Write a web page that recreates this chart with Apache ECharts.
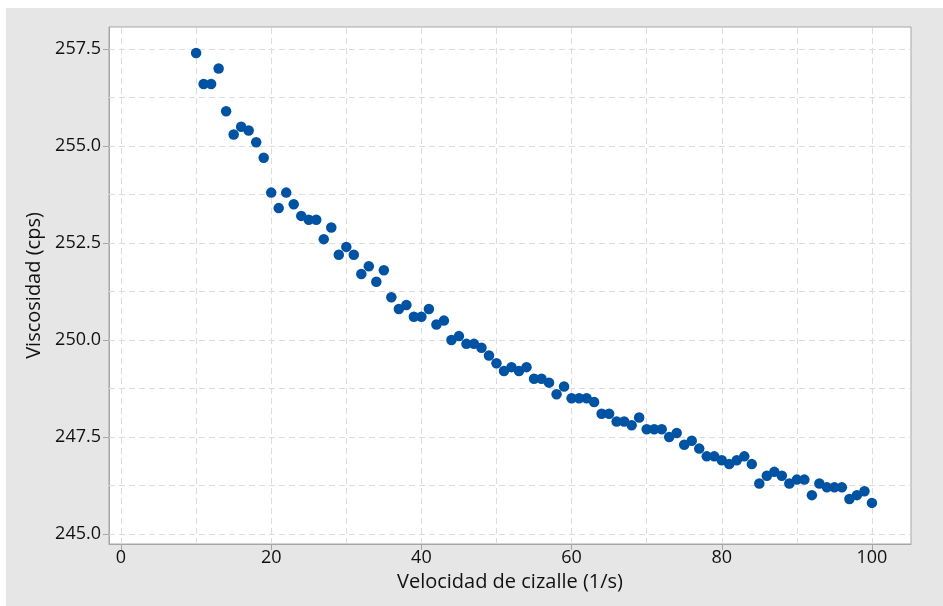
<!DOCTYPE html>
<html>
<head>
<meta charset="UTF-8">
<title>Viscosidad</title>
<style>
    html,body{margin:0;padding:0;background:#fff;width:100%;height:100%;}
    #wrap{position:absolute;left:6px;top:8px;width:937px;height:598px;background:#e6e6e6;}
</style>
</head>
<body>
<div id="wrap"></div>
<script src="https://cdn.jsdelivr.net/npm/echarts@6/dist/echarts.min.js"></script>
<script>
    // velocidad de cizalle (1/s)
    let shear = [];
    for (let i = 10; i <= 100; i++) shear.push(i);

    // viscosidad (cps)
    let viscosity = [
        257.4, 256.6, 256.6, 257.0, 255.9, 255.3, 255.5, 255.4, 255.1, 254.7,
        253.8, 253.4, 253.8, 253.5, 253.2, 253.1, 253.1, 252.6, 252.9, 252.2,
        252.4, 252.2, 251.7, 251.9, 251.5, 251.8, 251.1, 250.8, 250.9, 250.6,
        250.6, 250.8, 250.4, 250.5, 250.0, 250.1, 249.9, 249.9, 249.8, 249.6,
        249.4, 249.2, 249.3, 249.2, 249.3, 249.0, 249.0, 248.9, 248.6, 248.8,
        248.5, 248.5, 248.5, 248.4, 248.1, 248.1, 247.9, 247.9, 247.8, 248.0,
        247.7, 247.7, 247.7, 247.5, 247.6, 247.3, 247.4, 247.2, 247.0, 247.0,
        246.9, 246.8, 246.9, 247.0, 246.8, 246.3, 246.5, 246.6, 246.5, 246.3,
        246.4, 246.4, 246.0, 246.3, 246.2, 246.2, 246.2, 245.9, 246.0, 246.1,
        245.8
    ];

    let xTicks = [0, 20, 40, 60, 80, 100];
    let yTicks = [245.0, 247.5, 250.0, 252.5, 255.0, 257.5];
    let xGrid = [0, 10, 20, 30, 40, 50, 60, 70, 80, 90, 100];
    let yGrid = [245, 246.25, 247.5, 248.75, 250, 251.25, 252.5, 253.75, 255, 256.25, 257.5];

    let points = shear.map((x, i) => [x, viscosity[i]]);

    let chart = echarts.init(document.getElementById('wrap'));
    let font = '"Open Sans", "Noto Sans", sans-serif';
    let frame = '#a6a6a6';

    let gridLines = xGrid.map(v => ({xAxis: v})).concat(yGrid.map(v => ({yAxis: v})));

    chart.setOption({
        animation: false,
        backgroundColor: 'transparent',
        textStyle: {fontFamily: font},
        grid: {
            left: 103, right: 32, top: 19, bottom: 62,
            show: true, backgroundColor: '#fff',
            borderColor: frame, borderWidth: 1
        },
        xAxis: {
            type: 'value', min: -1.6, max: 105.2,
            name: 'Velocidad de cizalle (1/s)',
            nameLocation: 'middle', nameGap: 25,
            nameTextStyle: {fontSize: 20, color: '#111', fontFamily: font},
            axisLine: {show: true, onZero: false, lineStyle: {color: frame}},
            axisTick: {show: true, length: 6, lineStyle: {color: frame}, customValues: xTicks},
            axisLabel: {fontSize: 18, color: '#111', margin: 5, customValues: xTicks},
            splitLine: {show: false}
        },
        yAxis: {
            type: 'value', min: 244.74, max: 258.07,
            name: 'Viscosidad (cps)',
            nameLocation: 'middle', nameGap: 65,
            nameTextStyle: {fontSize: 20, color: '#111', fontFamily: font},
            axisLine: {show: true, onZero: false, lineStyle: {color: frame}},
            axisTick: {show: true, length: 6, lineStyle: {color: frame}, customValues: yTicks},
            axisLabel: {fontSize: 18, color: '#111', margin: 8, customValues: yTicks,
                formatter: v => v.toFixed(1)},
            splitLine: {show: false}
        },
        series: [
            {
                type: 'scatter',
                data: [],
                z: 1,
                markLine: {
                    silent: true,
                    z: 1,
                    symbol: 'none',
                    label: {show: false},
                    lineStyle: {color: '#dcdcdc', type: [6, 4], width: 1},
                    emphasis: {disabled: true},
                    data: gridLines
                }
            },
            {
                type: 'scatter',
                data: points,
                z: 3,
                symbolSize: 10.5,
                itemStyle: {color: '#0052a3', opacity: 1}
            }
        ]
    });
</script>
</body>
</html>
